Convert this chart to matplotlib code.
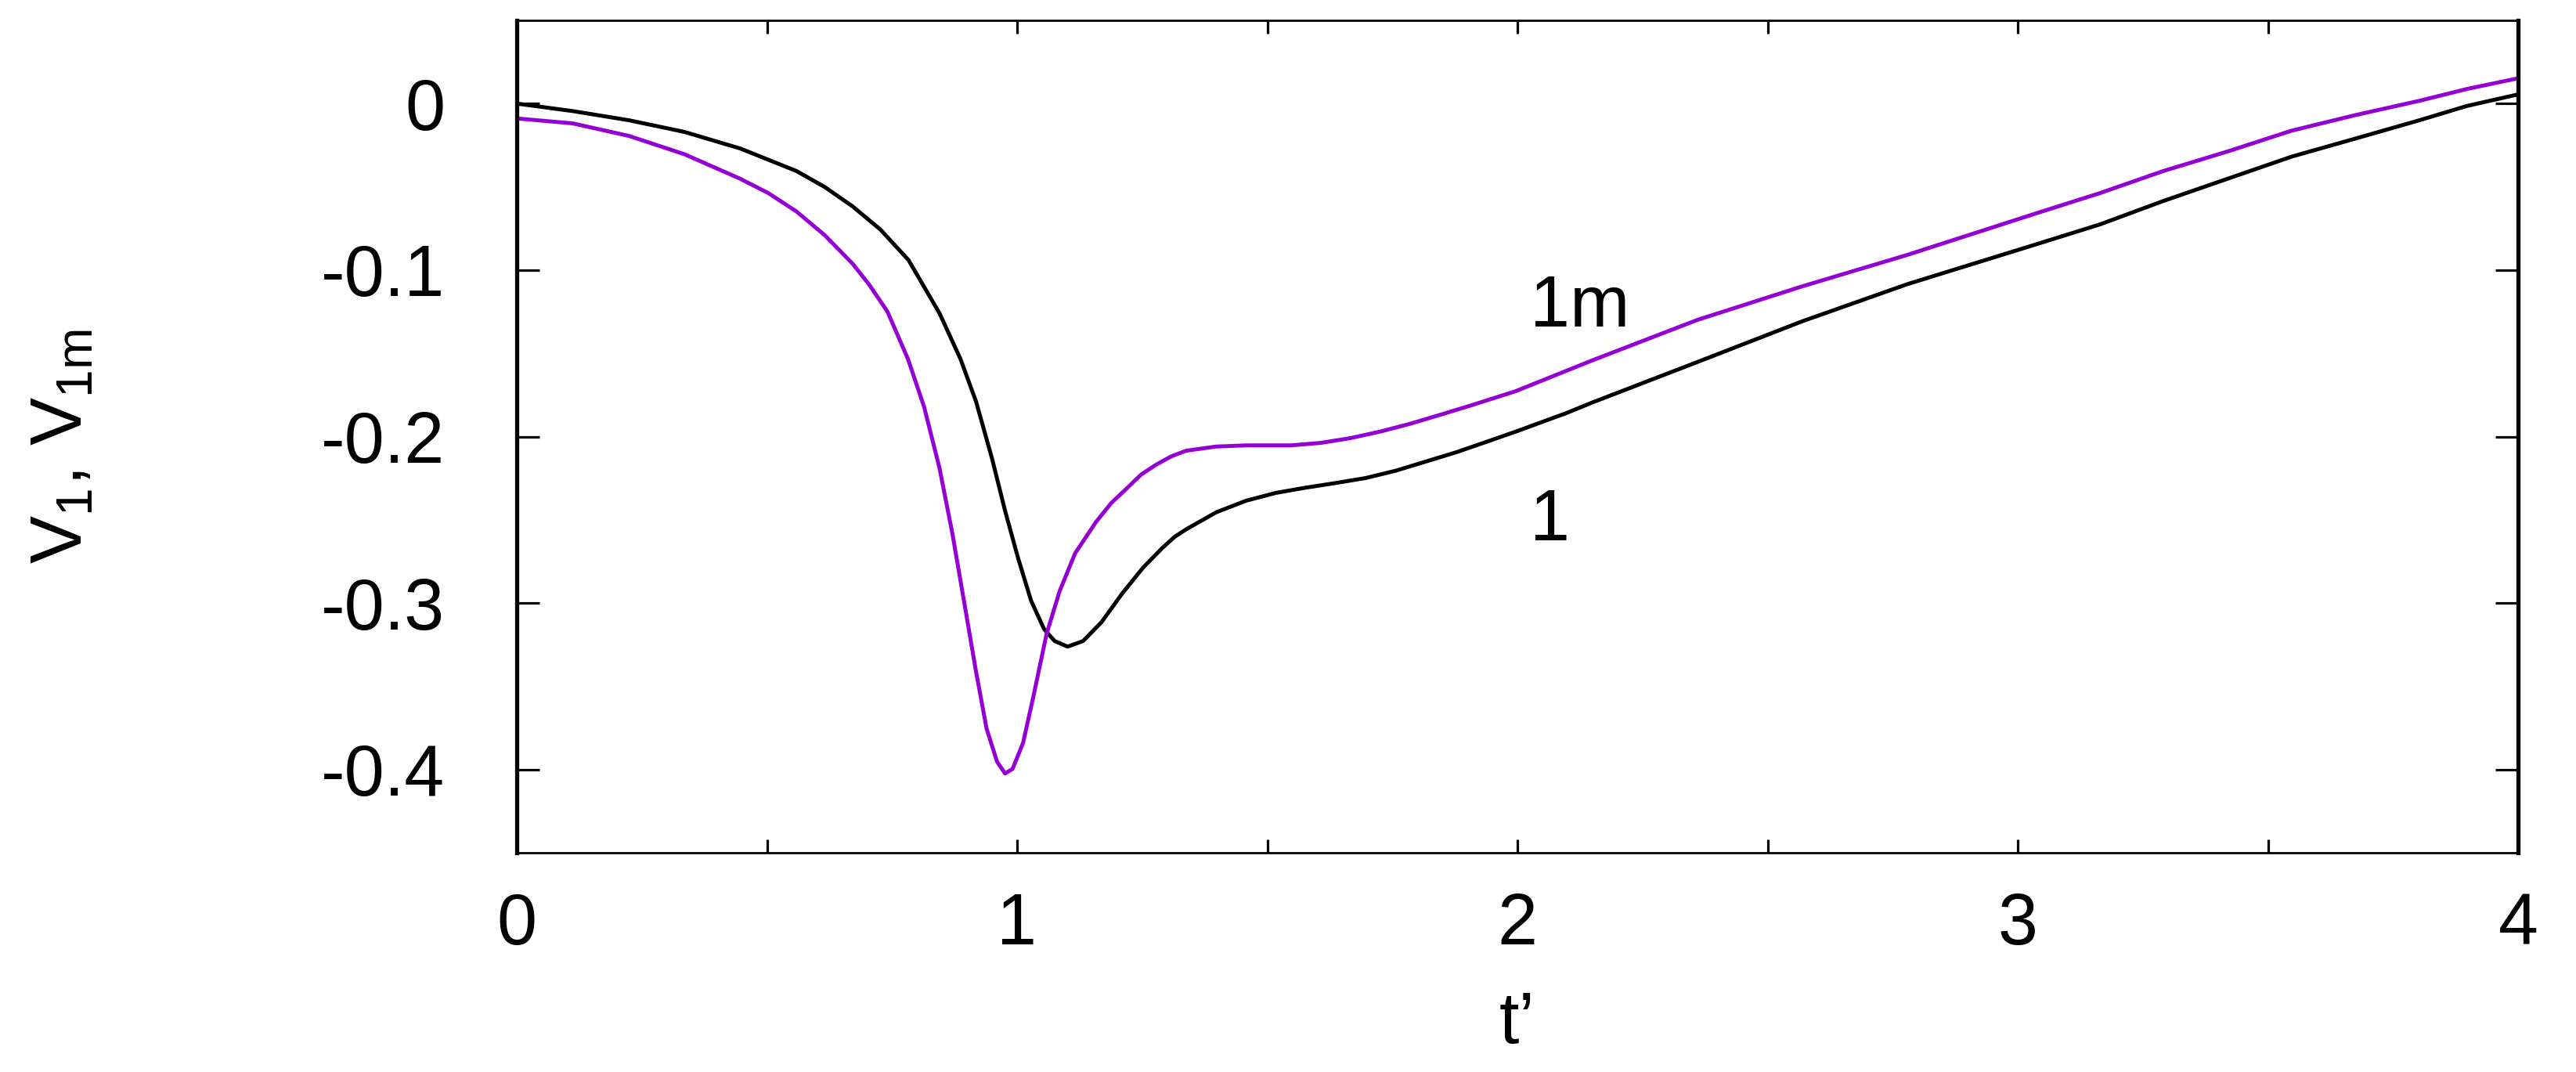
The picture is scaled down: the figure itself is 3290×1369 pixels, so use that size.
import matplotlib
matplotlib.use("Agg")
import matplotlib.pyplot as plt
from matplotlib.ticker import FixedLocator, FuncFormatter

plt.rcParams["font.family"] = ["Liberation Sans", "DejaVu Sans"]
plt.rcParams["mathtext.default"] = "regular"
plt.rcParams["axes.unicode_minus"] = False

# curve 1 (black)
t_1 = [0.0, 0.112, 0.224, 0.335, 0.447, 0.559, 0.615, 0.671, 0.727, 0.783,
       0.845, 0.887, 0.918, 0.950, 0.976, 1.002, 1.028, 1.054, 1.075, 1.101,
       1.132, 1.169, 1.210, 1.252, 1.289, 1.315, 1.338, 1.398, 1.458, 1.518,
       1.577, 1.637, 1.697, 1.757, 1.817, 1.877, 1.937, 1.997, 2.097, 2.150,
       2.360, 2.569, 2.779, 3.036, 3.164, 3.291, 3.419, 3.547, 3.675, 3.803,
       3.898, 4.0]
v_1 = [0.0, -0.0045, -0.010, -0.017, -0.027, -0.0405, -0.050, -0.0617, -0.0757, -0.094,
       -0.126, -0.1535, -0.179, -0.2133, -0.2446, -0.273, -0.2986, -0.3157, -0.3228, -0.3262,
       -0.3228, -0.3114, -0.2943, -0.2787, -0.2673, -0.2602, -0.2557, -0.2455, -0.2385, -0.2338,
       -0.2307, -0.2279, -0.2249, -0.2205, -0.215, -0.2095, -0.2033, -0.197, -0.186, -0.1795,
       -0.1552, -0.1308, -0.1085, -0.0846, -0.0726, -0.0585, -0.0452, -0.0319, -0.021, -0.010,
       -0.0014, 0.0055]

# curve 1m (violet)
t_1m = [0.0, 0.112, 0.224, 0.335, 0.447, 0.503, 0.559, 0.615, 0.671, 0.704,
        0.741, 0.782, 0.814, 0.845, 0.871, 0.897, 0.918, 0.939, 0.960, 0.976,
        0.991, 1.012, 1.033, 1.059, 1.085, 1.116, 1.158, 1.188, 1.218, 1.248,
        1.278, 1.308, 1.338, 1.398, 1.458, 1.547, 1.607, 1.667, 1.726, 1.786,
        1.846, 1.906, 1.996, 2.150, 2.360, 2.569, 2.779, 3.036, 3.164, 3.291,
        3.419, 3.547, 3.675, 3.803, 3.898, 4.0]
v_1m = [-0.0089, -0.0119, -0.0194, -0.0304, -0.0452, -0.0538, -0.0648, -0.0789, -0.0961, -0.1086,
        -0.125, -0.1535, -0.182, -0.219, -0.2588, -0.3043, -0.3413, -0.3754, -0.3953, -0.4024,
        -0.3996, -0.384, -0.3555, -0.3185, -0.2929, -0.2701, -0.2512, -0.240, -0.2315, -0.2228,
        -0.2169, -0.2119, -0.2085, -0.206, -0.2053, -0.2053, -0.2038, -0.2009, -0.197, -0.1923,
        -0.1869, -0.1814, -0.1728, -0.1542, -0.1299, -0.1098, -0.0909, -0.066, -0.0538, -0.0405,
        -0.0288, -0.0163, -0.0069, 0.0017, 0.0088, 0.0152]

x_ticks = [0, 1, 2, 3, 4]
x_minor = [0.5, 1.5, 2.5, 3.5]
y_ticks = [-0.4, -0.3, -0.2, -0.1, 0.0]

W, H = 3290, 1369
fig = plt.figure(figsize=(W / 100, H / 100), dpi=100)
ax = fig.add_axes([660 / W, 1 - 1089 / H, (3216 - 660) / W, (1089 - 26) / H])

ax.plot(t_1, v_1, color="black", lw=3.6, solid_joinstyle="round")
ax.plot(t_1m, v_1m, color="#9400d3", lw=3.6, solid_joinstyle="round")

ax.set_xlim(0, 4)
ax.set_ylim(-0.45, 0.05)

ax.xaxis.set_major_locator(FixedLocator(x_ticks))
ax.xaxis.set_minor_locator(FixedLocator(x_minor))
ax.yaxis.set_major_locator(FixedLocator(y_ticks))
ax.xaxis.set_major_formatter(FuncFormatter(lambda v, p: f"{v:g}"))
ax.yaxis.set_major_formatter(FuncFormatter(lambda v, p: "0" if abs(v) < 1e-9 else f"{v:.1f}"))

ax.tick_params(axis="both", which="both", direction="in", top=True, right=True,
               width=2.3, labelsize=66)
ax.tick_params(axis="x", which="both", length=12, pad=36)
ax.tick_params(axis="y", which="both", length=21, pad=66)

for side in ("top", "bottom"):
    ax.spines[side].set_linewidth(2.0)
for side in ("left", "right"):
    ax.spines[side].set_linewidth(3.8)

ax.text(2.025, -0.1338, "1m", fontsize=66, ha="left", va="baseline")
ax.text(2.025, -0.2624, "1", fontsize=66, ha="left", va="baseline")

fig.text(1938 / W, 1 - 1332 / H, "t\u2019", fontsize=66, ha="center", va="baseline")
fig.text(80 / W, 1 - 570 / H, "$V_1$, $V_{1m}$", fontsize=66, rotation=90,
         ha="center", va="center")

fig.savefig("out.png", dpi=100, facecolor="white")
